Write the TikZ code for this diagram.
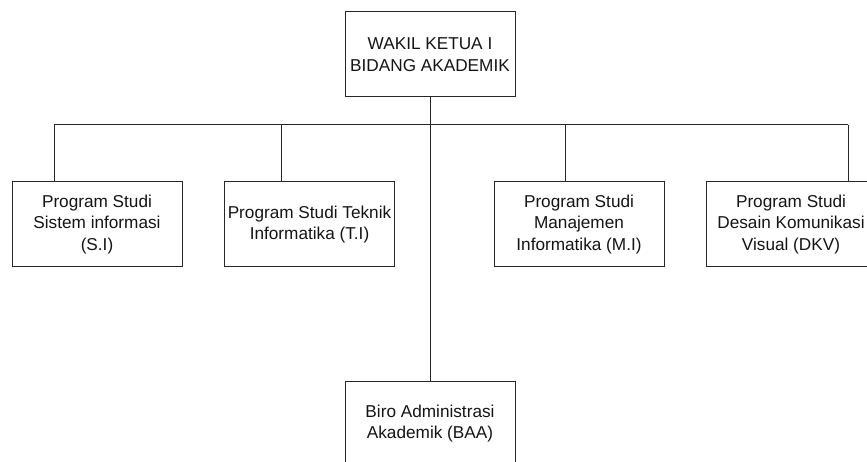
\documentclass[tikz,border=0pt]{standalone}
\usepackage{fontspec}
\setmainfont{Liberation Sans}
\begin{document}
\begin{tikzpicture}[x=1pt,y=-1pt,
  box/.style={draw=black!85, line width=1pt, minimum width=170pt, minimum height=85pt, inner sep=0pt, align=center, font=\fontsize{17.2}{21.5}\selectfont, text=black!92},
  link/.style={draw=black!85, line width=1pt}]
\useasboundingbox (0,0) rectangle (867,462);
\clip (0,0) rectangle (867,462);
\node[box] (top) at (430,54.5) {WAKIL KETUA I\\BIDANG AKADEMIK};
\node[box] (si) at (97,224.5) {Program Studi\\Sistem informasi\\(S.I)};
\node[box] (ti) at (309.5,224.5) {Program Studi Teknik\\Informatika (T.I)};
\node[box] (mi) at (579,224.5) {Program Studi\\Manajemen\\Informatika (M.I)};
\node[box] (dkv) at (791,224.5) {Program Studi\\Desain Komunikasi\\Visual (DKV)};
\node[box] (baa) at (430,423.5) {Biro Administrasi\\Akademik (BAA)};
\coordinate (busL) at (54,125);
\coordinate (busR) at (848,125);
\coordinate (busTI) at (281,125);
\coordinate (busMI) at (565,125);
\draw[link] (top.south) -- (baa.north);
\draw[link] (busL) -- (busR);
\draw[link] (busL) -- (busL |- si.north);
\draw[link] (busTI) -- (busTI |- ti.north);
\draw[link] (busMI) -- (busMI |- mi.north);
\draw[link] (busR) -- (busR |- dkv.north);
\end{tikzpicture}
\end{document}
